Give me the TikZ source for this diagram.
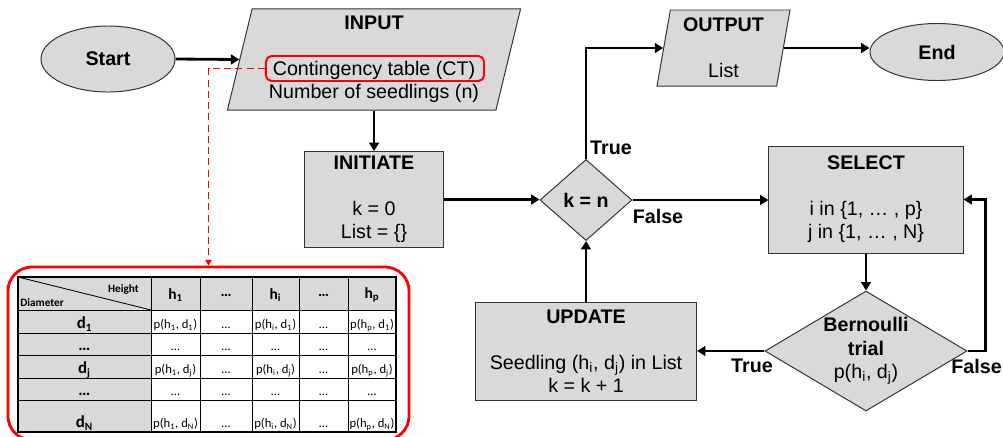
\documentclass[tikz,border=0pt]{standalone}
\usepackage{fontspec}
\setmainfont{Liberation Sans}
\newfontfamily\tabfont{Carlito}
\usepackage{tikz}
\usetikzlibrary{shapes.geometric,arrows.meta}
\definecolor{boxgray}{RGB}{217,217,217}

\begin{document}
\begin{tikzpicture}[x=0.025cm, y=-0.025cm,
    font=\fontsize{14}{16.5}\selectfont,
    block/.style={draw=black!80, fill=boxgray, line width=0.7pt, align=center},
    terminal/.style={block, ellipse, minimum width=3.35cm},
    process/.style={block, rectangle},
    iobox/.style={block, trapezium, trapezium stretches body},
    decision/.style={block, diamond, inner sep=0pt},
    flow/.style={line width=2pt, -{Triangle[length=6pt,width=7pt]}},
    ctlink/.style={draw=red, line width=1.2pt, dash pattern=on 5pt off 3pt, -{Triangle[length=4pt,width=4.5pt]}},
    answer/.style={font=\fontsize{14}{16.5}\selectfont\bfseries, inner sep=0pt},
    cell/.style={font=\tabfont\fontsize{9}{11}\selectfont, anchor=base, yshift=3pt, inner sep=0pt},
    rowhead/.style={font=\tabfont\fontsize{12}{14}\selectfont\bfseries, anchor=base, yshift=3pt, inner sep=0pt},
    colhead/.style={font=\tabfont\fontsize{11}{13}\selectfont\bfseries, inner sep=0pt}]
\useasboundingbox (0,0) rectangle (1003,436);

% Start and input
\node[terminal, minimum height=1.65cm] (start) at (108,59) {\textbf{Start}};
\node[iobox, trapezium left angle=75.6, trapezium right angle=104.4, minimum width=7.325cm, minimum height=2.525cm] (input) at (374,59.5) {\textbf{INPUT}\\[16pt] Contingency table (CT)\\ Number of seedlings (n)};
\node[draw=red, line width=1.4pt, rounded corners=4pt, minimum width=5.45cm, minimum height=0.625cm, inner sep=0pt] (ct) at (375,68.5) {};

% Main loop
\node[process, minimum width=3.475cm, minimum height=2.375cm] (initiate) at (374,199.5) {\textbf{INITIATE}\\[16pt] k = 0\\ List = \{\}};
\node[decision, minimum width=2.3cm, minimum height=2.025cm] (kn) at (586,200) {\textbf{k = n}};
\node[process, minimum width=4.85cm, minimum height=2.675cm] (select) at (866,199.5) {\textbf{SELECT}\\[16pt] i in \{1, … , p\}\\ j in \{1, … , N\}};
\node[decision, aspect=1.7, minimum width=5.05cm, minimum height=3cm] (bern) at (866,351) {\textbf{Bernoulli}\\ \textbf{trial}\\ p(h\textsubscript{i}, d\textsubscript{j})};
\node[process, minimum width=5.525cm, minimum height=2.45cm] (update) at (586,351) {\textbf{UPDATE}\\[16pt] Seedling (h\textsubscript{i}, d\textsubscript{j}) in List\\ k = k + 1};

% Output and end
\node[iobox, trapezium left angle=79, trapezium right angle=101, minimum width=3.325cm, minimum height=1.9cm] (output) at (723.5,48) {\textbf{OUTPUT}\\[16pt] List};
\node[terminal, minimum height=1.425cm] (end) at (937,52) {\textbf{End}};

% Connections
\draw[flow] (start.east) -- (input.west);
\draw[flow] (input.south) -- (input.south |- initiate.north);
\draw[flow] (initiate.east) -- (initiate.east -| kn.west);
\draw[flow] (kn.north) |- (output.west);
\draw[flow] (output.east) -- (output.east -| end.west);
\draw[flow] (kn.east) -- (kn.east -| select.west);
\draw[flow] (select.south) -- (bern.north);
\draw[flow] (bern.west) -- (update.east);
\draw[flow] (bern.east) -- ++(18,0) |- (select.east);
\draw[flow] (update.north) -- (kn.south);

\node[answer] (kntrue) at (611,148) {True};
\node[answer] (knfalse) at (658,216) {False};
\node[answer] (berntrue) at (752,366) {True};
\node[answer, anchor=east] (bernfalse) at (1002,366) {False};

% Contingency table
\node[draw=red, line width=2pt, rounded corners=0.6cm, minimum width=10.025cm, minimum height=4.325cm] (ctframe) at (208.5,353.5) {};
\draw[ctlink] (ct.west) -| (ctframe.north);

\fill[boxgray] (18,277) rectangle (396,310);
\fill[boxgray] (18,310) rectangle (151,432);
\foreach \x in {151,200,252,299,348}
    \draw[line width=0.6pt] (\x,277) -- (\x,432);
\foreach \y in {310,333,355,378,400}
    \draw[line width=0.6pt] (18,\y) -- (396,\y);
\draw[line width=0.8pt] (18,277) rectangle (396,432);
\draw[line width=0.6pt] (18,277) -- (151,310);

\node[font=\tabfont\fontsize{8}{10}\selectfont\bfseries, anchor=east, inner sep=0pt] (height) at (139,289) {Height};
\node[font=\tabfont\fontsize{8}{10}\selectfont\bfseries, anchor=west, inner sep=0pt] (diameter) at (20,303) {Diameter};
\node[colhead] (h1) at (175.5,295) {h\textsubscript{1}};
\node[colhead] (hdots1) at (226,295) {…};
\node[colhead] (hi) at (275.5,295) {h\textsubscript{i}};
\node[colhead] (hdots2) at (323.5,295) {…};
\node[colhead] (hp) at (372,295) {h\textsubscript{p}};

% rows with values
\foreach \yb/\dd in {333/1, 378/j, 432/N} {
    \node[rowhead] (d-\dd) at (84.5,\yb) {d\textsubscript{\dd}};
    \node[cell] (p-1-\dd) at (175.5,\yb) {p(h\textsubscript{1}, d\textsubscript{\dd})};
    \node[cell] (p-a-\dd) at (226,\yb) {…};
    \node[cell] (p-i-\dd) at (275.5,\yb) {p(h\textsubscript{i}, d\textsubscript{\dd})};
    \node[cell] (p-b-\dd) at (323.5,\yb) {…};
    \node[cell] (p-p-\dd) at (372,\yb) {p(h\textsubscript{p}, d\textsubscript{\dd})};
}
% rows of dots
\foreach \yb in {355,400} {
    \node[rowhead] (d-dots-\yb) at (84.5,\yb) {…};
    \foreach \cx in {175.5,226,275.5,323.5,372}
        \node[cell] (dots-\cx-\yb) at (\cx,\yb) {…};
}
\end{tikzpicture}
\end{document}
